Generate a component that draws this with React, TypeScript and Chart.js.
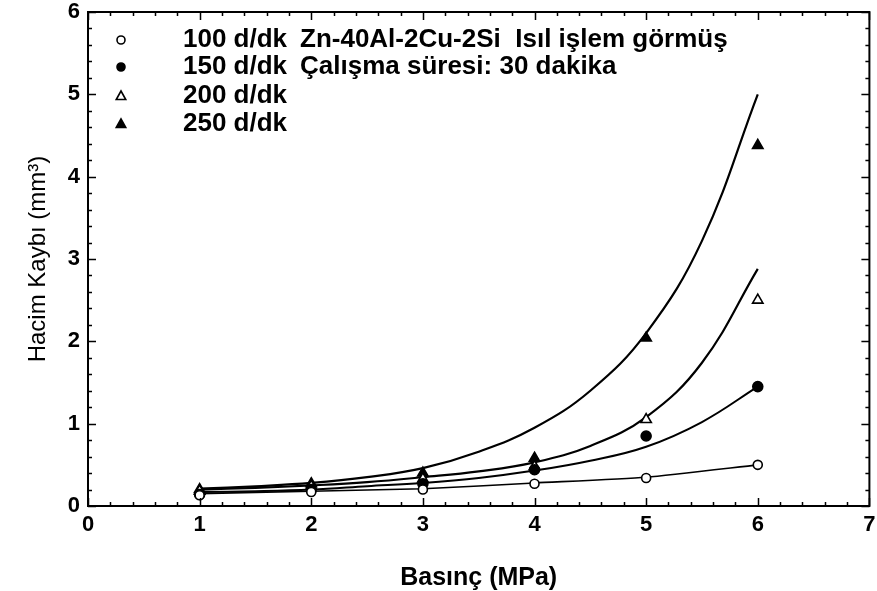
import React, { useEffect, useRef } from "react";
import { Chart, registerables } from "chart.js";

Chart.register(...registerables);

// ---- data ----
const pressure = [1, 2, 3, 4, 5, 6];
const loss100 = [0.13, 0.17, 0.2, 0.27, 0.34, 0.5];
const loss150 = [0.14, 0.2, 0.27, 0.44, 0.85, 1.45];
const loss200 = [0.18, 0.24, 0.33, 0.48, 1.05, 2.5];
const loss250 = [0.2, 0.27, 0.4, 0.58, 2.04, 4.38];

const fitX = [1, 1.5, 2, 2.5, 3, 3.5, 4, 4.5, 5, 5.5, 6];
const fit150 = [0.17, 0.18, 0.2, 0.24, 0.28, 0.34, 0.43, 0.55, 0.72, 1.02, 1.45];
const fit200 = [0.2, 0.22, 0.25, 0.29, 0.35, 0.42, 0.53, 0.73, 1.08, 1.74, 2.88];
const fit250 = [0.21, 0.24, 0.28, 0.35, 0.46, 0.66, 0.95, 1.4, 2.1, 3.22, 5.0];
const line100X = [1, 2, 3, 4, 5, 6];
const line100 = [0.15, 0.18, 0.21, 0.28, 0.35, 0.5];

const legendLabels = ["100 d/dk", "150 d/dk", "200 d/dk", "250 d/dk"];
const noteLines = ["Zn-40Al-2Cu-2Si  Isıl işlem görmüş", "Çalışma süresi: 30 dakika"];
const xTitle = "Basınç (MPa)";
const yTitle = "Hacim Kaybı (mm³)";
const xMin = 0, xMax = 7, yMin = 0, yMax = 6;

const FONT = '"Liberation Sans", Arial, sans-serif';

const toPts = (xs: number[], ys: number[]) => xs.map((x, i) => ({ x, y: ys[i] }));

type Marker = { style: string; filled: boolean };
const markers: Marker[] = [
  { style: "circle", filled: false },
  { style: "circle", filled: true },
  { style: "triangle", filled: false },
  { style: "triangle", filled: true },
];

function drawMarker(ctx: CanvasRenderingContext2D, m: Marker, x: number, y: number) {
  ctx.save();
  ctx.beginPath();
  if (m.style === "circle") {
    ctx.arc(x, y, 4, 0, Math.PI * 2);
  } else {
    const r = 5;
    ctx.moveTo(x, y - r);
    ctx.lineTo(x + r * 0.95, y + r * 0.7);
    ctx.lineTo(x - r * 0.95, y + r * 0.7);
    ctx.closePath();
  }
  ctx.fillStyle = m.filled ? "#000" : "#fff";
  ctx.fill();
  ctx.lineWidth = 1.6;
  ctx.strokeStyle = "#000";
  ctx.stroke();
  ctx.restore();
}

const framePlugin = {
  id: "frameTicks",
  afterDatasetsDraw(chart: any) {
    const { ctx, chartArea: a, scales } = chart;
    const xs = scales.x, ys = scales.y;
    ctx.save();
    ctx.strokeStyle = "#000";
    ctx.lineWidth = 2;
    ctx.strokeRect(a.left, a.top, a.right - a.left, a.bottom - a.top);
    ctx.lineWidth = 1.5;
    ctx.beginPath();
    for (let i = 0; i <= (xMax - xMin) * 5; i++) {
      const v = xMin + i * 0.2;
      const major = i % 5 === 0;
      const L = major ? 8 : 4;
      const px = Math.round(xs.getPixelForValue(v)) + 0.5;
      ctx.moveTo(px, a.bottom);
      ctx.lineTo(px, a.bottom - L);
      ctx.moveTo(px, a.top);
      ctx.lineTo(px, a.top + L);
    }
    for (let i = 0; i <= (yMax - yMin) * 5; i++) {
      const v = yMin + i * 0.2;
      const major = i % 5 === 0;
      const L = major ? 8 : 4;
      const py = Math.round(ys.getPixelForValue(v)) + 0.5;
      ctx.moveTo(a.left, py);
      ctx.lineTo(a.left + L, py);
      ctx.moveTo(a.right, py);
      ctx.lineTo(a.right - L, py);
    }
    ctx.stroke();

    // legend
    const rowsY = [40, 67, 96, 124];
    ctx.fillStyle = "#000";
    ctx.font = `bold 26px ${FONT}`;
    ctx.textBaseline = "middle";
    ctx.textAlign = "left";
    legendLabels.forEach((lab, i) => {
      drawMarker(ctx, markers[i], 121, rowsY[i]);
      ctx.fillStyle = "#000";
      ctx.fillText(lab, 183, rowsY[i]);
    });
    noteLines.forEach((t, i) => {
      ctx.fillText(t, 300, rowsY[i]);
    });
    ctx.restore();
  },
};

export default function App() {
  const ref = useRef<HTMLCanvasElement | null>(null);
  useEffect(() => {
    if (!ref.current) return;
    const pointDs = (data: number[], m: Marker, r: number) => ({
      data: toPts(pressure, data),
      showLine: false,
      pointStyle: m.style,
      pointRadius: r,
      pointBackgroundColor: m.filled ? "#000" : "#fff",
      pointBorderColor: "#000",
      pointBorderWidth: 1.6,
      order: 1,
    });
    const curveDs = (xs: number[], ys: number[], w: number, t: number) => ({
      data: toPts(xs, ys),
      showLine: true,
      pointRadius: 0,
      borderColor: "#000",
      borderWidth: w,
      cubicInterpolationMode: "default",
      tension: t,
      order: 2,
    });
    const chart = new Chart(ref.current, {
      type: "scatter",
      data: {
        datasets: [
          curveDs(line100X, line100, 1.6, 0.2),
          curveDs(fitX, fit150, 2, 0.4),
          curveDs(fitX, fit200, 2.2, 0.4),
          curveDs(fitX, fit250, 2.2, 0.4),
          pointDs(loss100, markers[0], 4.5),
          pointDs(loss150, markers[1], 5),
          pointDs(loss200, markers[2], 6),
          pointDs(loss250, markers[3], 6),
        ] as any,
      },
      options: {
        responsive: false,
        animation: false,
        layout: { padding: { top: 12, right: 4, left: 0, bottom: 0 } },
        plugins: { legend: { display: false }, tooltip: { enabled: false } },
        scales: {
          x: {
            type: "linear",
            min: xMin,
            max: xMax,
            grid: { display: false, drawTicks: false },
            border: { display: false },
            ticks: {
              stepSize: 1,
              padding: 6,
              color: "#000",
              font: { family: FONT, size: 22, weight: "bold" },
              maxRotation: 0,
            },
            title: {
              display: true,
              text: xTitle,
              color: "#000",
              font: { family: FONT, size: 25, weight: "bold", lineHeight: 1 },
              padding: { top: 0, bottom: 0 },
            },
            afterFit(s: any) {
              s.height = 85;
              s.paddingLeft = 0;
              s.paddingRight = 0;
            },
          },
          y: {
            type: "linear",
            min: yMin,
            max: yMax,
            grid: { display: false, drawTicks: false },
            border: { display: false },
            ticks: {
              stepSize: 1,
              padding: 8,
              color: "#000",
              font: { family: FONT, size: 22, weight: "bold" },
            },
            title: {
              display: true,
              text: yTitle,
              color: "#000",
              font: { family: FONT, size: 24, lineHeight: 1 },
              padding: { top: 26, bottom: 0 },
            },
            afterFit(s: any) {
              s.width = 88;
              s.paddingTop = 0;
              s.paddingBottom = 0;
            },
          },
        },
      } as any,
      plugins: [framePlugin],
    });
    return () => chart.destroy();
  }, []);
  return (
    <div style={{ position: "fixed", left: 0, top: 0, width: 877, height: 591, background: "#fff" }}>
      <canvas ref={ref} width={877} height={591} style={{ display: "block" }} />
    </div>
  );
}
